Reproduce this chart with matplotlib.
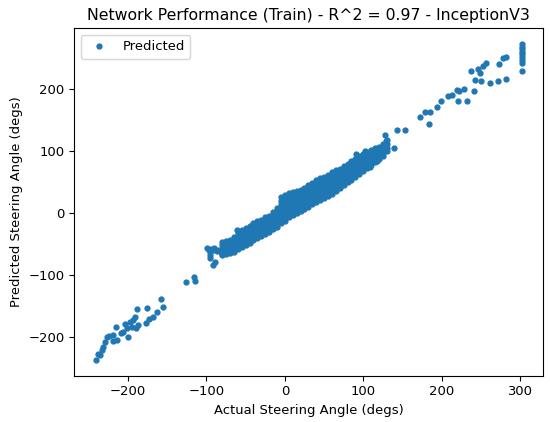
import numpy as np
from matplotlib import pyplot as plt

# dense band, read column by column (actual angle -> predicted angles)
band = [
    (-80, [-46, -52, -58, -63, -66]),
    (-75, [-45, -51, -57, -62, -66]),
    (-70, [-43, -49, -55, -60, -65]),
    (-65, [-38, -44, -50, -56, -62]),
    (-60, [-32, -38, -44, -50, -55, -58]),
    (-55, [-28, -34, -40, -46, -51, -55]),
    (-50, [-24, -30, -36, -42, -47, -51]),
    (-45, [-20, -26, -32, -38, -43, -48]),
    (-40, [-16, -22, -28, -34, -39, -44]),
    (-35, [-13, -19, -25, -31, -36, -40]),
    (-30, [-11, -17, -23, -29, -34, -37]),
    (-25, [-7, -13, -19, -25, -30, -33]),
    (-20, [-4, -10, -16, -22, -27, -30]),
    (-15, [2, -4, -10, -16, -21, -26]),
    (-10, [9, 3, -3, -9, -15, -22]),
    (-5, [26, 20, 14, 8, 2, -4, -10, -16]),
    (0, [30, 24, 18, 12, 6, 0, -6, -12]),
    (5, [32, 26, 20, 14, 8, 2, -3, -7]),
    (10, [34, 28, 22, 16, 10, 4, -3]),
    (15, [36, 30, 24, 18, 12, 6, 0]),
    (20, [37, 31, 25, 19, 13, 8, 3]),
    (25, [41, 35, 29, 23, 17, 12, 7]),
    (30, [45, 39, 33, 27, 21, 15, 10]),
    (35, [49, 43, 37, 31, 25, 19, 14]),
    (40, [53, 47, 41, 35, 29, 23, 18]),
    (45, [56, 50, 44, 38, 32, 26, 21]),
    (50, [58, 52, 46, 40, 34, 29, 24]),
    (55, [62, 56, 50, 44, 38, 32, 27]),
    (60, [66, 60, 54, 48, 42, 36, 31]),
    (65, [69, 63, 57, 51, 45, 40, 35]),
    (70, [72, 66, 60, 54, 48, 44, 40]),
    (75, [76, 70, 64, 58, 52, 48, 45]),
    (80, [80, 74, 68, 62, 56, 50]),
    (85, [84, 78, 72, 66, 60, 54]),
    (90, [88, 82, 76, 70, 64, 58]),
    (95, [92, 86, 80, 74, 68, 63]),
    (100, [96, 90, 84, 78, 73, 68]),
    (105, [99, 94, 88, 83, 78, 73]),
    (110, [102, 97, 92, 87, 82, 78]),
    (115, [105, 100, 95, 90, 86, 82]),
    (120, [107, 102, 97, 92, 87]),
    (125, [112, 107, 102, 97, 93]),
    (130, [118, 112, 106, 100]),
]

# scattered points off the band
actual_sparse = [
    -99, -97, -96, -94, -92, -90, -88, -86, -84, -82, -80, -78, -96, -92, -89, -95, -61,
    90.5, 102, 109, 118, 129, 128, 139, 98.6, 116,
    302, 302, 302, 302, 302, 302, 302, 302, 302,
    281.7, 278.3, 272.7, 257, 252.7, 246.3, 237.8, 249.3, 242, 250.6, 262, 272, 282.6,
    241.2, 228, 222.8, 219.8, 232.3, 220.7, 213.4, 208, 199.4, 193.8, 185.3, 179.3,
    172.5, 184.4, 153.6, 142.6,
    -241.5, -239, -236, -233.8, -231.7, -229.6, -227.4, -224.5, -219.7, -219.7, -213.8,
    -215.9, -209.5, -206, -204, -201.8, -200.5, -197.6, -195.4, -193.3, -191.2, -189.9,
    -188.2, -186.9, -177, -175.4, -172.9, -167.7, -162.6, -157.9, -155.7,
    -126.2, -116.5, -114.3,
]
pred_sparse = [
    -57, -59, -62, -58, -60, -57, -59, -61, -60, -63, -68, -63, -72, -84, -79, -68, -27,
    96, 100, 74, 84, 117, 127, 105, 84, 87,
    273, 269, 265, 261, 257, 252, 247, 243, 229,
    252.5, 250.3, 240.7, 242.3, 238, 232.6, 230, 226, 215.5, 214, 210, 214, 216.6,
    196.8, 201, 196.8, 199, 181.8, 181.8, 191.5, 189.9, 181.8, 171.6, 163.5, 163,
    156, 144.3, 134.6, 134.6,
    -237, -227, -229, -221, -215.6, -209, -199.5, -198, -196.8, -206, -204.8,
    -183.5, -194, -191.5, -179.6, -186, -199.5, -175.4, -183.5, -172.7, -167.4, -186,
    -155.5, -180.7, -178, -153.9, -171.6, -167.4, -159.4, -138.5, -151.3,
    -111.2, -103, -109.5,
]

actual = [bx for bx, ys in band for _ in ys] + actual_sparse
predicted = [y for bx, ys in band for y in ys] + pred_sparse

fig = plt.figure(figsize=(5.5, 4.22), dpi=100)
ax = fig.add_axes([0.135, 0.110, 0.852, 0.8226])
ax.plot(actual, predicted, '.', color='#1f77b4', markersize=7, label='Predicted')
ax.set_title('Network Performance (Train) - R^2 = 0.97 - InceptionV3', fontsize=11.3)
ax.set_xlabel('Actual Steering Angle (degs)', fontsize=9.45)
ax.set_ylabel('Predicted Steering Angle (degs)', fontsize=9.45)
ax.tick_params(labelsize=9.45)
ax.set_xticks([-200, -100, 0, 100, 200, 300])
ax.set_yticks([-200, -100, 0, 100, 200])
ax.legend(loc='upper left', fontsize=9.45)
fig.savefig('out.png', dpi=100)
